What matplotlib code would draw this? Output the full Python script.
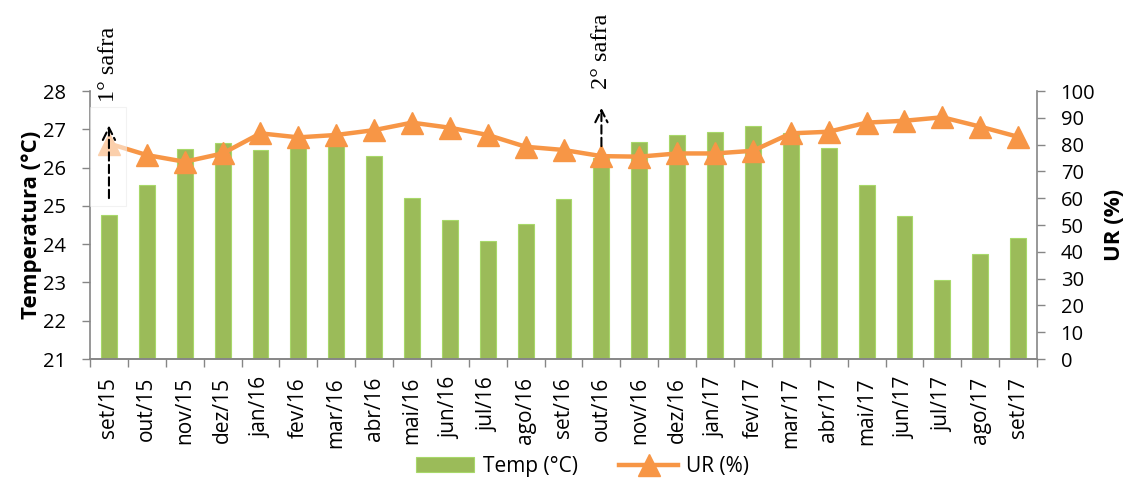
import matplotlib.pyplot as plt
import numpy as np
from matplotlib.patches import Rectangle

months = ["set/15", "out/15", "nov/15", "dez/15", "jan/16", "fev/16", "mar/16",
          "abr/16", "mai/16", "jun/16", "jul/16", "ago/16", "set/16", "out/16",
          "nov/16", "dez/16", "jan/17", "fev/17", "mar/17", "abr/17", "mai/17",
          "jun/17", "jul/17", "ago/17", "set/17"]
temp = [24.76, 25.55, 26.49, 26.63, 26.47, 26.6, 26.7, 26.31, 25.2, 24.63,
        24.08, 24.53, 25.18, 26.25, 26.66, 26.86, 26.92, 27.09, 26.9, 26.51,
        25.55, 24.74, 23.07, 23.74, 24.15]
ur = [80.4, 76.1, 73.6, 76.7, 84.2, 82.7, 83.6, 85.4, 88.2, 86.3,
      83.6, 79.2, 78.0, 75.7, 75.5, 76.7, 76.7, 77.7, 84.2, 84.8,
      88.2, 88.9, 90.2, 86.7, 82.9]

plt.rcParams["font.family"] = ["Open Sans", "DejaVu Sans"]
gray = "#868686"
x = np.arange(len(months))

fig = plt.figure(figsize=(11.38, 4.79), dpi=100)
ax = fig.add_axes([0.0791, 0.2505, 0.8322, 0.5595])
ax2 = ax.twinx()

bars = ax.bar(x, temp, width=0.42, color="#9BBB59", edgecolor="#A8D86A",
              linewidth=0.8, label="Temp (°C)", zorder=2)
ax.set_ylim(21, 28)
ax.set_xlim(-0.5, len(months) - 0.5)
ax.set_yticks(range(21, 29))
ax.set_xticks(x)
ax.set_xticklabels(months, rotation=90, fontsize=15)
ax.set_xticks(np.arange(-0.5, len(months)), minor=True)
ax.tick_params(axis="x", which="major", length=0, pad=13)
ax.tick_params(axis="x", which="minor", length=6, color=gray, width=1)
ax.tick_params(axis="y", labelsize=14.5, length=6, color=gray, width=1, pad=11)
ax.set_ylabel("Temperatura (°C)", fontsize=16, fontweight="bold", labelpad=1)

line, = ax2.plot(x, ur, color="#F79646", linewidth=3.2, marker="^",
                 markersize=15.5, label="UR (%)", zorder=3)
ax2.set_ylim(0, 100)
ax2.set_yticks(range(0, 101, 10))
ax2.tick_params(axis="y", labelsize=14.5, length=6, color=gray, width=1, pad=11)
ax2.set_ylabel("UR (%)", fontsize=16, fontweight="bold", labelpad=6)

for a in (ax, ax2):
    a.spines["top"].set_visible(False)
    for s in ("left", "right", "bottom"):
        a.spines[s].set_color(gray)
        a.spines[s].set_linewidth(1.2)
ax.spines["right"].set_visible(False)
ax2.spines["left"].set_visible(False)

# faint box behind the first harvest marker
ax2.add_patch(Rectangle((-0.5, 57), 0.95, 37, facecolor="white", alpha=0.55,
                        edgecolor="#e8e8e8", linewidth=0.8, zorder=4))

# harvest markers: dashed arrows with vertical serif labels (UR axis units)
for xi, y0, y1, ty, lbl in [(0, 59.0, 88.2, 95.8, "1° safra"),
                            (13, 78.4, 94.8, 100.6, "2° safra")]:
    ax2.annotate("", xy=(xi, y1), xytext=(xi, y0),
                 arrowprops=dict(arrowstyle="->", color="black", lw=1.5,
                                 linestyle=(0, (4, 2)), mutation_scale=22),
                 annotation_clip=False, zorder=6)
    ax2.text(xi, ty, lbl, rotation=90, ha="center", va="bottom",
             fontsize=17.5, family="Liberation Serif", clip_on=False, zorder=6)

fig.legend(handles=[bars, line], loc="center", bbox_to_anchor=(0.512, 0.026),
           ncol=2, frameon=False, fontsize=15, handlelength=2.8,
           columnspacing=2.0, handletextpad=0.4)

fig.savefig("out.png", dpi=100)
